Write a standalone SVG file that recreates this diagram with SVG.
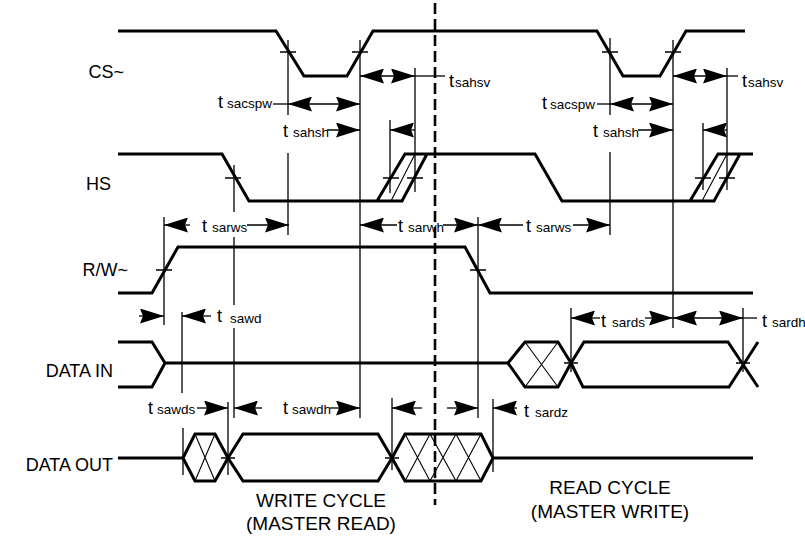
<svg xmlns="http://www.w3.org/2000/svg" width="805" height="539" viewBox="0 0 805 539">
<defs>
<marker id="ah" viewBox="0 0 24 15" refX="24" refY="7.5" markerWidth="24" markerHeight="15" markerUnits="userSpaceOnUse" orient="auto-start-reverse">
<path d="M0,0 L24,7.5 L0,15 L3,7.5 Z" fill="#000"/>
</marker>
</defs>
<style>
.sig{fill:none;stroke:#000;stroke-width:3;stroke-linejoin:miter}
.thin{fill:none;stroke:#000;stroke-width:1.3}
.hat{fill:none;stroke:#000;stroke-width:1.1}
.arr{fill:none;stroke:#000;stroke-width:1.3;marker-end:url(#ah)}
.dbl{fill:none;stroke:#000;stroke-width:1.3;marker-start:url(#ah);marker-end:url(#ah)}
.lbl{font-family:"Liberation Sans",Arial,sans-serif;font-size:18px;fill:#000}
.big{font-family:"Liberation Sans",Arial,sans-serif;font-size:19px;fill:#000}
.t{font-family:"Liberation Sans",Arial,sans-serif;font-size:18px;fill:#000}
.s{font-size:13.5px}
.dash{fill:none;stroke:#000;stroke-width:2.6;stroke-dasharray:11 5}
</style>
<rect width="805" height="539" fill="#fff"/>

<g id="labels">
<text class="lbl" x="124" y="78" text-anchor="end">CS~</text>
<text class="lbl" x="111" y="190" text-anchor="end">HS</text>
<text class="lbl" x="128" y="276" text-anchor="end">R/W~</text>
<text class="lbl" x="113" y="377" text-anchor="end">DATA IN</text>
<text class="lbl" x="113" y="471" text-anchor="end">DATA OUT</text>
<text class="big" x="321" y="507" text-anchor="middle">WRITE CYCLE</text>
<text class="big" x="321" y="530" text-anchor="middle">(MASTER READ)</text>
<text class="big" x="610" y="494" text-anchor="middle">READ CYCLE</text>
<text class="big" x="610" y="518" text-anchor="middle">(MASTER WRITE)</text>
</g>

<g id="sig-cs">
<path class="sig" d="M118,31 H276 L304,76 H347 L373,31 H597 L623,76 H660 L686,31 H745"/>
</g>

<g id="sig-hs">
<path class="sig" d="M118,154 H222 L249,201 H402 L427,154 M377,201 L405,154 H535 L562,201 H714 L740,154 M690,201 L718,154 H753"/>
<path class="hat" d="M391,201 L415,154 M702,201 L727,154"/>
</g>

<g id="sig-rw">
<path class="sig" d="M118,293 H152 L178,247 H465 L490,293 H753"/>
</g>

<g id="sig-datain">
<path class="sig" d="M118,342 H152 L165,363 L152,387 H118 M165,363 H508"/>
<path class="sig" d="M508,363 L525,342 H558 L571,363 L558,387 H525 Z"/>
<path class="sig" d="M571,363 L584,342 H728 L758,387 M571,363 L583,387 H729 L758,342"/>
<path class="hat" d="M525,342 L558,387 M558,342 L525,387"/>
</g>

<g id="sig-dataout">
<path class="sig" d="M118,458 H183 M493,458 H753"/>
<path class="sig" d="M183,458 L195,434 H215 L228,458 L215,481 H195 Z"/>
<path class="sig" d="M228,458 L243,434 H378 L392,458 L378,481 H243 Z"/>
<path class="sig" d="M392,458 L405,434 H481 L493,458 L481,481 H405 Z"/>
<path class="hat" d="M195,434 L215,481 M215,434 L195,481"/>
<path class="hat" d="M405,434 L430,481 M430,434 L405,481 M430,434 L456,481 M456,434 L430,481 M456,434 L481,481 M481,434 L456,481"/>
</g>

<g id="divider">
<line class="dash" x1="435" y1="3" x2="435" y2="505"/>
</g>

<g id="connectors">
<path class="thin" d="M288,40 V115 M288,153 V235 M360,40 V418 M415,68 V192 M390,120 V193 M234,165 V212 M234,237 V305 M234,328 V418 M610,38 V115 M610,152 V235 M673,40 V328 M727,68 V190 M703,123 V190 M164,217 V325 M478,217 V418 M182,312 V393 M183,428 V475 M571,308 V372 M743,308 V372 M228,402 V475 M392,398 V470 M493,399 V472"/>
<path class="thin" d="M280,52 H296 M352,52 H368 M602,52 H618 M665,52 H681 M225,178 H241 M383,178 H399 M407,178 H423 M695,178 H711 M719,178 H735 M156,270 H172 M470,270 H486 M564,363 H578 M736,363 H750 M221,458 H235 M385,458 H399"/>
<line class="dbl" x1="360" y1="76" x2="415" y2="76"/>
<line class="thin" x1="415" y1="76" x2="445" y2="76"/>
<line class="dbl" x1="673" y1="76" x2="727" y2="76"/>
<line class="thin" x1="727" y1="76" x2="738" y2="76"/>
<line class="thin" x1="273" y1="104" x2="288" y2="104"/>
<line class="dbl" x1="288" y1="104" x2="360" y2="104"/>
<line class="thin" x1="597" y1="104" x2="610" y2="104"/>
<line class="dbl" x1="610" y1="104" x2="673" y2="104"/>
<line class="arr" x1="327" y1="130" x2="360" y2="130"/>
<line class="arr" x1="415" y1="130" x2="390" y2="130"/>
<line class="arr" x1="638" y1="130" x2="673" y2="130"/>
<line class="arr" x1="727" y1="130" x2="703" y2="130"/>
<line class="arr" x1="190" y1="225" x2="164" y2="225"/>
<line class="arr" x1="247" y1="225" x2="289" y2="225"/>
<line class="arr" x1="397" y1="225" x2="360" y2="225"/>
<line class="arr" x1="443" y1="225" x2="478" y2="225"/>
<line class="arr" x1="523" y1="225" x2="478" y2="225"/>
<line class="arr" x1="573" y1="225" x2="610" y2="225"/>
<line class="arr" x1="139" y1="316" x2="164" y2="316"/>
<line class="arr" x1="211" y1="316" x2="182" y2="316"/>
<line class="arr" x1="600" y1="318" x2="571" y2="318"/>
<line class="arr" x1="645" y1="318" x2="673" y2="318"/>
<line class="dbl" x1="673" y1="318" x2="743" y2="318"/>
<line class="thin" x1="743" y1="318" x2="757" y2="318"/>
<line class="arr" x1="197" y1="408" x2="228" y2="408"/>
<line class="arr" x1="262" y1="408" x2="234" y2="408"/>
<line class="arr" x1="330" y1="408" x2="360" y2="408"/>
<line class="arr" x1="422" y1="408" x2="392" y2="408"/>
<line class="arr" x1="447" y1="408" x2="478" y2="408"/>
<line class="arr" x1="517" y1="408" x2="493" y2="408"/>
</g>

<g id="timing-labels">
<text class="t" x="449" y="87">t<tspan class="s" x="455">sahsv</tspan></text>
<text class="t" x="742" y="87">t<tspan class="s" x="748">sahsv</tspan></text>
<text class="t" x="218" y="108">t<tspan class="s" x="227">sacspw</tspan></text>
<text class="t" x="542" y="109">t<tspan class="s" x="550">sacspw</tspan></text>
<text class="t" x="283" y="137">t<tspan class="s" x="293">sahsh</tspan></text>
<text class="t" x="593" y="137">t<tspan class="s" x="603">sahsh</tspan></text>
<text class="t" x="202" y="232">t<tspan class="s" x="212">sarws</tspan></text>
<text class="t" x="398" y="232">t<tspan class="s" x="408">sarwh</tspan></text>
<text class="t" x="526" y="232">t<tspan class="s" x="536">sarws</tspan></text>
<text class="t" x="217" y="322">t<tspan class="s" x="230" y="323">sawd</tspan></text>
<text class="t" x="601" y="327">t<tspan class="s" x="612">sards</tspan></text>
<text class="t" x="762" y="327">t<tspan class="s" x="772">sardh</tspan></text>
<text class="t" x="148" y="414">t<tspan class="s" x="157">sawds</tspan></text>
<text class="t" x="283" y="414">t<tspan class="s" x="292">sawdh</tspan></text>
<text class="t" x="524" y="417">t<tspan class="s" x="535">sardz</tspan></text>
</g>
</svg>
